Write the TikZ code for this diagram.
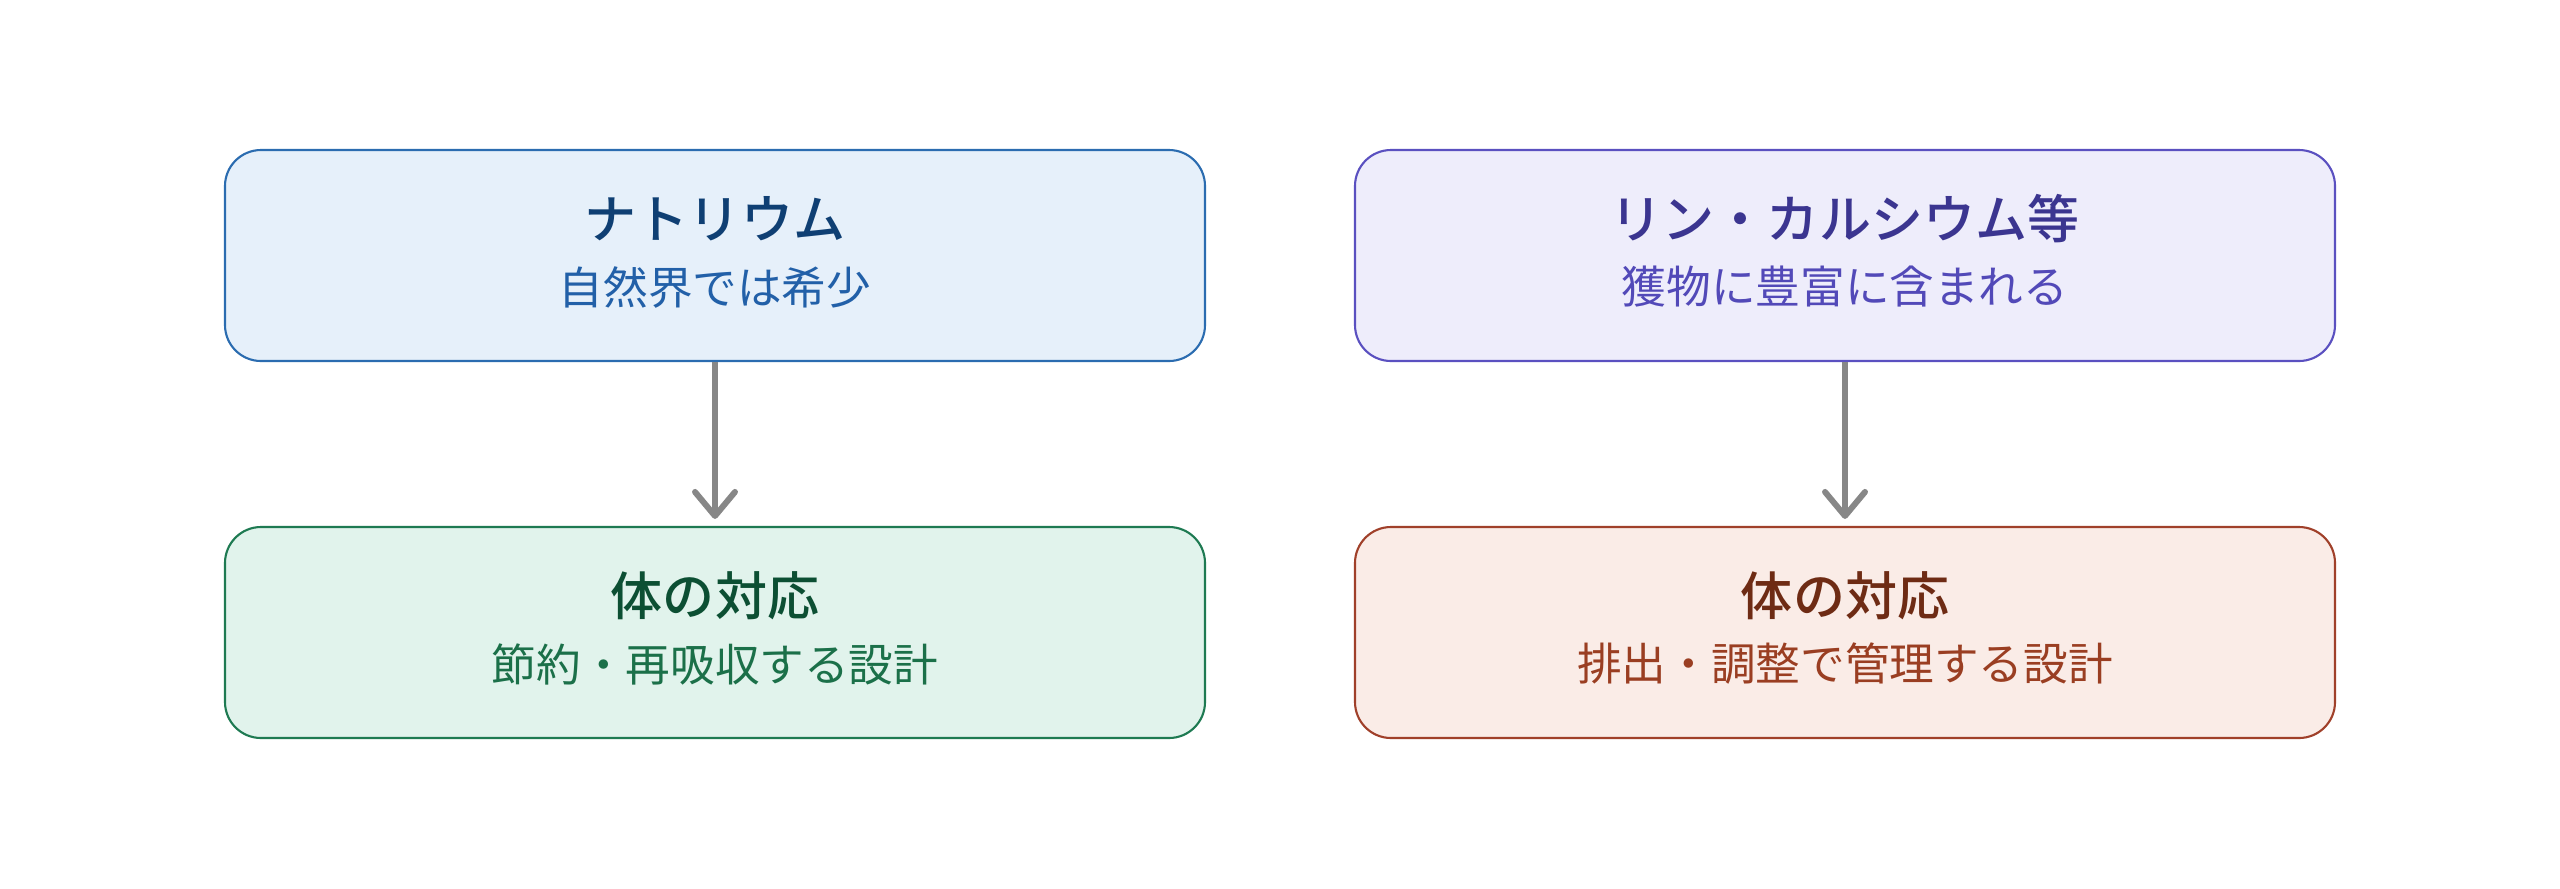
\documentclass[tikz,border=0pt]{standalone}
\usepackage{fontspec}
\setmainfont{Noto Sans CJK JP}[BoldFont={Noto Sans CJK JP Medium}]
\usetikzlibrary{arrows.meta}

\definecolor{naFill}{HTML}{E6F0FA}
\definecolor{naLine}{HTML}{2B6CB0}
\definecolor{naHead}{HTML}{0F3F73}
\definecolor{naText}{HTML}{2260A8}
\definecolor{gnFill}{HTML}{E1F3EC}
\definecolor{gnLine}{HTML}{1E7A52}
\definecolor{gnHead}{HTML}{0C4F33}
\definecolor{gnText}{HTML}{1B7049}
\definecolor{puFill}{HTML}{EEEDFB}
\definecolor{puLine}{HTML}{5A50C0}
\definecolor{puHead}{HTML}{3B3590}
\definecolor{puText}{HTML}{5249B8}
\definecolor{orFill}{HTML}{FAECE7}
\definecolor{orLine}{HTML}{A0402A}
\definecolor{orHead}{HTML}{6E2B14}
\definecolor{orText}{HTML}{9A3E22}

\tikzset{
  box/.style={draw, line width=0.6pt, rounded corners=0.36cm,
    minimum width=9.8cm, minimum height=2.11cm},
  head/.style={font=\fontsize{14.8}{16}\selectfont\bfseries},
  sub/.style={font=\fontsize{12.7}{14}\selectfont},
  flow/.style={draw=black!47, line width=1.7pt,
    -{Straight Barb[length=0.24cm,width=0.4cm,line width=1.7pt,round]}, shorten >=2pt}
}

\begin{document}
\begin{tikzpicture}
    \useasboundingbox (0,0) rectangle (25.6,-8.88);

    % Sodium column
    \node[box, draw=naLine, fill=naFill] (sodium) at (7.15,-2.555) {};
    \node[head, text=naHead] (sodiumT) at (7.15,-2.19) {ナトリウム};
    \node[sub, text=naText] (sodiumS) at (7.15,-2.87) {自然界では希少};

    \node[box, draw=gnLine, fill=gnFill] (save) at (7.15,-6.325) {};
    \node[head, text=gnHead] (saveT) at (7.15,-5.96) {体の対応};
    \node[sub, text=gnText] (saveS) at (7.15,-6.64) {節約・再吸収する設計};

    % Phosphorus / calcium column
    \node[box, draw=puLine, fill=puFill] (mineral) at (18.45,-2.555) {};
    \node[head, text=puHead] (mineralT) at (18.45,-2.19) {リン・カルシウム等};
    \node[sub, text=puText] (mineralS) at (18.45,-2.87) {獲物に豊富に含まれる};

    \node[box, draw=orLine, fill=orFill] (excrete) at (18.45,-6.325) {};
    \node[head, text=orHead] (excreteT) at (18.45,-5.96) {体の対応};
    \node[sub, text=orText] (excreteS) at (18.45,-6.64) {排出・調整で管理する設計};

    % Arrows
    \draw[flow] (sodium.south) -- (save.north);
    \draw[flow] (mineral.south) -- (excrete.north);
\end{tikzpicture}
\end{document}
